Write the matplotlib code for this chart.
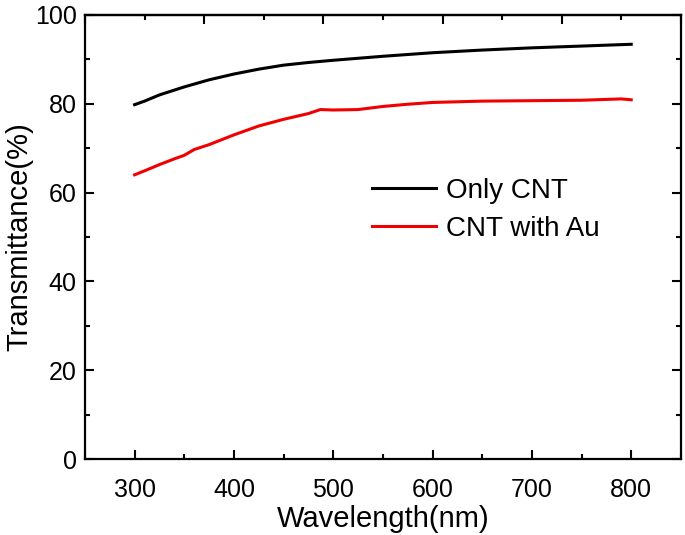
import matplotlib
matplotlib.use("Agg")
import matplotlib.pyplot as plt
from matplotlib.ticker import MultipleLocator, FixedLocator

plt.rcParams["font.family"] = ["Liberation Sans", "DejaVu Sans"]

# transmittance (wavelength in nm, T in %)
wl_cnt = [300, 310, 325, 350, 375, 400, 425, 450, 475, 500, 550, 600, 650, 700, 750, 800]
t_cnt = [79.8, 80.6, 82.0, 83.8, 85.4, 86.7, 87.8, 88.7, 89.3, 89.8, 90.7, 91.5, 92.1, 92.6, 93.0, 93.4]

wl_au = [300, 310, 325, 340, 350, 360, 375, 400, 425, 450, 475, 487, 500, 525, 550, 575, 600, 650, 700, 750, 790, 800]
t_au = [64.0, 64.9, 66.3, 67.6, 68.4, 69.7, 70.8, 73.0, 75.0, 76.5, 77.8, 78.7, 78.6, 78.7, 79.4, 79.9, 80.3, 80.6, 80.7, 80.8, 81.1, 80.9]

# the top axis of the original carries its own, unlabelled tick spacing
top_major = [250, 370, 490, 610, 730, 850]
top_minor = [310, 430, 550, 670, 790]

fig = plt.figure(figsize=(6.85, 5.35), dpi=100)
ax = fig.add_axes([0.124, 0.142, 0.870, 0.830])

ax.plot(wl_cnt, t_cnt, color="black", linewidth=2.2, label="Only CNT")
ax.plot(wl_au, t_au, color="#f00000", linewidth=2.2, label="CNT with Au")

ax.set_xlim(250, 850)
ax.set_ylim(0, 100)
ax.xaxis.set_major_locator(MultipleLocator(100))
ax.xaxis.set_minor_locator(MultipleLocator(50))
ax.yaxis.set_major_locator(MultipleLocator(20))
ax.yaxis.set_minor_locator(MultipleLocator(10))
ax.tick_params(which="both", direction="in", top=False, right=True, width=1.5)
ax.tick_params(which="major", length=6.5, labelsize=18)
ax.tick_params(which="minor", length=3.3)
ax.tick_params(axis="x", which="major", pad=14)
ax.tick_params(axis="y", which="major", pad=6)
for s in ax.spines.values():
    s.set_linewidth(1.6)

top = ax.secondary_xaxis("top")
top.xaxis.set_major_locator(FixedLocator(top_major))
top.xaxis.set_minor_locator(FixedLocator(top_minor))
top.tick_params(which="both", direction="in", width=1.5, labeltop=False)
top.tick_params(which="major", length=6.5)
top.tick_params(which="minor", length=3.3)
top.spines["top"].set_linewidth(1.6)

ax.set_xlabel("Wavelength(nm)", fontsize=21, labelpad=2)
ax.set_ylabel("Transmittance(%)", fontsize=21, labelpad=1)

ax.legend(loc="upper left", bbox_to_anchor=(0.463, 0.658), frameon=False,
          fontsize=20, handlelength=2.3, handletextpad=0.35, labelspacing=0.42,
          borderaxespad=0)

fig.savefig("out.png", dpi=100)
